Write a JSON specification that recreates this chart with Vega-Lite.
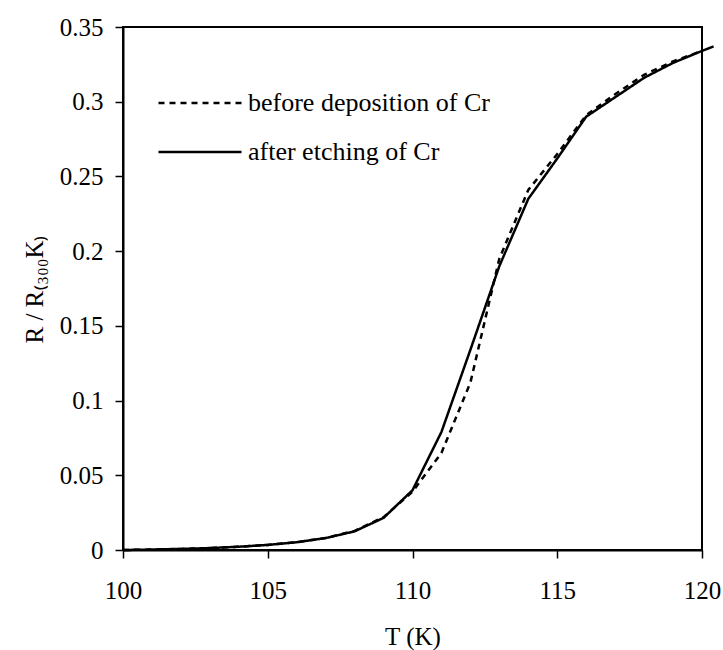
{
  "$schema": "https://vega.github.io/schema/vega-lite/v6.json",
  "autosize": "none",
  "width": 579,
  "height": 523,
  "padding": {"left": 123, "top": 27, "right": 21, "bottom": 100},
  "background": "white",
  "config": {
    "font": "Liberation Serif",
    "view": {"stroke": "black", "strokeWidth": 2},
    "axis": {
      "grid": false,
      "domainColor": "black",
      "domainWidth": 2,
      "tickColor": "black",
      "tickWidth": 1.5,
      "tickSize": 8,
      "labelFont": "Liberation Serif",
      "labelFontSize": 25,
      "labelColor": "black",
      "titleFont": "Liberation Serif",
      "titleFontSize": 25,
      "titleFontWeight": "normal",
      "titleColor": "black"
    }
  },
  "data": {
    "values": [
      {"T": 100, "v": 0, "series": "after etching of Cr"},
      {"T": 101, "v": 0.0003, "series": "after etching of Cr"},
      {"T": 102, "v": 0.0007, "series": "after etching of Cr"},
      {"T": 103, "v": 0.0013, "series": "after etching of Cr"},
      {"T": 104, "v": 0.0022, "series": "after etching of Cr"},
      {"T": 105, "v": 0.0034, "series": "after etching of Cr"},
      {"T": 106, "v": 0.0052, "series": "after etching of Cr"},
      {"T": 107, "v": 0.008, "series": "after etching of Cr"},
      {"T": 108, "v": 0.0125, "series": "after etching of Cr"},
      {"T": 109, "v": 0.0215, "series": "after etching of Cr"},
      {"T": 110, "v": 0.04, "series": "after etching of Cr"},
      {"T": 111, "v": 0.079, "series": "after etching of Cr"},
      {"T": 112, "v": 0.134, "series": "after etching of Cr"},
      {"T": 113, "v": 0.19, "series": "after etching of Cr"},
      {"T": 114, "v": 0.235, "series": "after etching of Cr"},
      {"T": 115, "v": 0.262, "series": "after etching of Cr"},
      {"T": 116, "v": 0.29, "series": "after etching of Cr"},
      {"T": 117, "v": 0.303, "series": "after etching of Cr"},
      {"T": 118, "v": 0.316, "series": "after etching of Cr"},
      {"T": 119, "v": 0.326, "series": "after etching of Cr"},
      {"T": 120, "v": 0.334, "series": "after etching of Cr"},
      {"T": 120.4, "v": 0.337, "series": "after etching of Cr"},
      {"T": 100, "v": 0, "series": "before deposition of Cr"},
      {"T": 101, "v": 0.0003, "series": "before deposition of Cr"},
      {"T": 102, "v": 0.0007, "series": "before deposition of Cr"},
      {"T": 103, "v": 0.0013, "series": "before deposition of Cr"},
      {"T": 104, "v": 0.0022, "series": "before deposition of Cr"},
      {"T": 105, "v": 0.0034, "series": "before deposition of Cr"},
      {"T": 106, "v": 0.0052, "series": "before deposition of Cr"},
      {"T": 107, "v": 0.008, "series": "before deposition of Cr"},
      {"T": 108, "v": 0.0128, "series": "before deposition of Cr"},
      {"T": 109, "v": 0.022, "series": "before deposition of Cr"},
      {"T": 110, "v": 0.039, "series": "before deposition of Cr"},
      {"T": 111, "v": 0.065, "series": "before deposition of Cr"},
      {"T": 112, "v": 0.112, "series": "before deposition of Cr"},
      {"T": 113, "v": 0.195, "series": "before deposition of Cr"},
      {"T": 114, "v": 0.241, "series": "before deposition of Cr"},
      {"T": 115, "v": 0.265, "series": "before deposition of Cr"},
      {"T": 116, "v": 0.291, "series": "before deposition of Cr"},
      {"T": 117, "v": 0.305, "series": "before deposition of Cr"},
      {"T": 118, "v": 0.318, "series": "before deposition of Cr"},
      {"T": 119, "v": 0.327, "series": "before deposition of Cr"},
      {"T": 120, "v": 0.334, "series": "before deposition of Cr"}
    ]
  },
  "mark": {"type": "line", "color": "black", "strokeWidth": 2.5, "clip": false},
  "encoding": {
    "x": {
      "field": "T",
      "type": "quantitative",
      "scale": {"domain": [100, 120], "nice": false, "zero": false},
      "axis": {"values": [100, 105, 110, 115, 120], "labelPadding": 20, "title": "T (K)", "titlePadding": 21, "labelFlush": false}
    },
    "y": {
      "field": "v",
      "type": "quantitative",
      "scale": {"domain": [0, 0.35], "nice": false},
      "axis": {"values": [0, 0.05, 0.1, 0.15, 0.2, 0.25, 0.3, 0.35], "format": ".2~f", "labelPadding": 12, "title": "R / R₍₃₀₀K₎", "titlePadding": 12, "labelFlush": false}
    },
    "strokeDash": {
      "field": "series",
      "type": "nominal",
      "scale": {"domain": ["before deposition of Cr", "after etching of Cr"], "range": [[6, 5], [1, 0]]},
      "legend": {
        "title": null,
        "orient": "none",
        "legendX": 34,
        "legendY": 63,
        "padding": 0,
        "symbolType": "stroke",
        "symbolSize": 6889,
        "symbolStrokeWidth": 2.5,
        "symbolStrokeColor": "black",
        "clipHeight": 26,
        "rowPadding": 23,
        "labelOffset": 5,
        "labelFont": "Liberation Serif",
        "labelFontSize": 26,
        "labelColor": "black",
        "labelLimit": 400
      }
    }
  }
}
